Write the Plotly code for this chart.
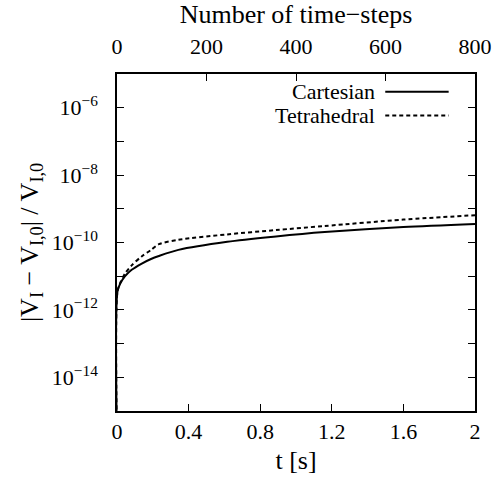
import plotly.graph_objects as go

# time [s]
t_cart = [0.0, 0.0025, 0.018, 0.045, 0.082, 0.136, 0.19, 0.234, 0.343, 0.616, 0.888, 1.16, 1.6, 2.0]
v_cart = [1e-16, 3.47e-12, 6.0e-12, 1.0e-11, 1.55e-11, 2.34e-11, 3.24e-11, 3.98e-11,
          6.03e-11, 1.05e-10, 1.51e-10, 2.04e-10, 2.88e-10, 3.55e-10]

t_tet = [0.0, 0.0025, 0.018, 0.045, 0.082, 0.136, 0.19, 0.234, 0.343, 0.616, 0.888, 1.16, 1.6, 2.0]
v_tet = [1e-16, 3.47e-12, 6.3e-12, 1.2e-11, 2.1e-11, 3.8e-11, 6.0e-11, 8.9e-11,
         1.2e-10, 1.74e-10, 2.34e-10, 3.09e-10, 4.79e-10, 6.45e-10]

x_ticks = [0, 0.4, 0.8, 1.2, 1.6, 2]
x_ticktext = ["0", "0.4", "0.8", "1.2", "1.6", "2"]
steps_ticks = [0, 200, 400, 600, 800]
y_exps = [-15, -14, -13, -12, -11, -10, -9, -8, -7, -6, -5]
y_labeled = [-14, -12, -10, -8, -6]

FONT = "'Liberation Serif', 'Times New Roman', Times, serif"
FS = 22

fig = go.Figure()
fig.add_trace(go.Scatter(x=t_cart, y=v_cart, mode="lines", name="Cartesian",
                         line=dict(color="black", width=2, shape="spline", smoothing=0.8),
                         showlegend=False))
fig.add_trace(go.Scatter(x=t_tet, y=v_tet, mode="lines", name="Tetrahedral",
                         line=dict(color="black", width=2, dash="4px,3px", shape="spline", smoothing=0.8),
                         showlegend=False))
# invisible trace to activate the top axis
fig.add_trace(go.Scatter(x=[0, 800], y=[1e-20, 1e-20], xaxis="x2", mode="lines",
                         line=dict(width=0), showlegend=False, hoverinfo="skip"))

ytickvals = [10.0 ** e for e in y_exps]
yticktext = [("10<sup>\u2212%d</sup>" % -e) if e in y_labeled else "" for e in y_exps]

fig.update_layout(
    width=504, height=484,
    margin=dict(l=117, r=20, t=70, b=73),
    paper_bgcolor="white", plot_bgcolor="white",
    font=dict(family=FONT, size=FS, color="black"),
    xaxis=dict(range=[0, 2], tickvals=x_ticks, ticktext=x_ticktext,
               ticks="inside", ticklen=7, tickwidth=1, tickcolor="black",
               showline=True, linecolor="black", linewidth=1.5, mirror=False,
               showgrid=False, zeroline=False,
               title=dict(text="t [s]", standoff=8)),
    xaxis2=dict(range=[0, 800], tickvals=steps_ticks, overlaying="x", side="top",
                ticks="inside", ticklen=7, tickwidth=1, tickcolor="black",
                showline=True, linecolor="black", linewidth=1.5,
                showgrid=False, zeroline=False, ticklabelstandoff=9,
                title=dict(text="Number of time\u2212steps", standoff=4)),
    yaxis=dict(type="log", range=[-15, -5], tickvals=ytickvals, ticktext=yticktext,
               ticks="inside", ticklen=7, tickwidth=1, tickcolor="black",
               showline=True, linecolor="black", linewidth=1.5, mirror="ticks",
               showgrid=False, zeroline=False, ticklabelstandoff=13,
               title=dict(text="|V<sub>I</sub> \u2212 V<sub>I,0</sub>| / V<sub>I,0</sub>", standoff=6)),
)

# legend drawn gnuplot-style (text right-aligned, sample on the right)
legend_items = [("Cartesian", "solid", 88), ("Tetrahedral", "4px,3px", 112)]
H = 484
for name, dash, ypix in legend_items:
    yp = (H - 73 - ypix) / (484 - 70 - 73)
    fig.add_annotation(x=(384 - 117) / 367, y=yp, xref="paper", yref="paper",
                       text=name, showarrow=False, xanchor="right", yanchor="middle",
                       font=dict(family=FONT, size=FS, color="black"))
    fig.add_shape(type="line", xref="paper", yref="paper",
                  x0=(392 - 117) / 367, x1=(457 - 117) / 367, y0=yp, y1=yp,
                  line=dict(color="black", width=2, dash=dash))

fig.write_html("out.html")
